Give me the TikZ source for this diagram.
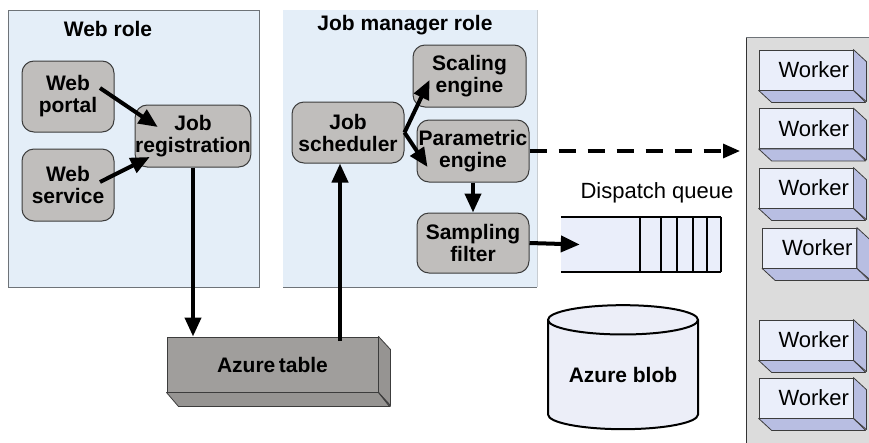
\documentclass[tikz,border=0pt]{standalone}
\usepackage{fontspec}
\setmainfont{Liberation Sans}
\usetikzlibrary{arrows.meta,calc,shapes.geometric}
\definecolor{panelfill}{RGB}{228,238,248}
\definecolor{panelline}{RGB}{110,115,120}
\definecolor{nodefill}{RGB}{192,190,188}
\definecolor{nodeline}{RGB}{60,60,60}
\definecolor{tablefill}{RGB}{160,158,156}
\definecolor{tableside}{RGB}{150,148,146}
\definecolor{wpanel}{RGB}{220,220,220}
\definecolor{wfront}{RGB}{234,238,250}
\definecolor{wside}{RGB}{184,190,226}
\definecolor{blobfill}{RGB}{236,238,248}
\definecolor{jmedge}{RGB}{200,205,210}
\begin{document}
\begin{tikzpicture}[x=1pt,y=-1pt,
  title/.style={font=\bfseries\fontsize{21}{23}\selectfont, inner sep=0pt},
  procbox/.style={draw=nodeline, line width=1pt, fill=nodefill, rounded corners=12pt,
    align=center, font=\bfseries\fontsize{21}{22}\selectfont, inner sep=0pt},
  flow/.style={line width=4pt, -{Triangle[length=19pt,width=16pt]}},
  dflow/.style={line width=3.2pt, dash pattern=on 17pt off 12pt, -{Triangle[length=17pt,width=14pt]}},
  workerbox/.style={draw=nodeline, line width=0.8pt, fill=wfront, minimum height=40pt,
    text width=86pt, align=right, inner xsep=4pt, inner ysep=0pt,
    font=\fontsize{22}{24}\selectfont},
  faceside/.style={draw=nodeline, line width=0.8pt, line join=round},
]
\useasboundingbox (0,0) rectangle (869,442);
\clip (0,0) rectangle (869,442);

% panels
\node[draw=panelline, line width=0.8pt, fill=panelfill, minimum width=251pt, minimum height=277pt,
  anchor=north west, inner sep=0pt] (webrole) at (8,10) {};
\node[fill=panelfill, minimum width=254pt, minimum height=277pt,
  anchor=north west, inner sep=0pt] (jmrole) at (283,10) {};
\draw[panelline, line width=1pt] (jmrole.south west) -- (jmrole.south east);
\draw[jmedge, line width=0.6pt] (jmrole.north east) -- (jmrole.south east);
\node[title] (webtitle) at (108,29) {Web role};
\node[title] (jmtitle) at (405,25) {Job manager role};

% worker panel
\node[fill=wpanel, minimum width=130pt, minimum height=410pt, anchor=north west, inner sep=0pt] (wp) at (746,37) {};
\draw[black!80, line width=1pt] (wp.south west) -- (wp.north west);
\draw[panelline, line width=1pt] (wp.north west) -- (wp.north east);

% process nodes
\node[procbox, minimum width=92pt, minimum height=71pt] (portal) at (68,96.5) {Web\\portal};
\node[procbox, minimum width=92pt, minimum height=72pt] (service) at (68,185) {Web\\service};
\node[procbox, minimum width=112pt, minimum height=62pt] (jreg) at (193,136) {Job\\registration};
\node[procbox, minimum width=112pt, minimum height=61pt] (jsched) at (348,132.5) {Job\\scheduler};
\node[procbox, minimum width=113pt, minimum height=62pt] (scale) at (469.5,76) {Scaling\\engine};
\node[procbox, minimum width=112pt, minimum height=62pt] (param) at (473,151) {Parametric\\engine};
\node[procbox, minimum width=112pt, minimum height=60pt] (sample) at (473,243) {Sampling\\filter};

% azure table (3D box)
\node[draw=nodeline, line width=1pt, fill=tablefill, minimum width=211pt, minimum height=55pt,
  inner sep=0pt, font=\bfseries\fontsize{21}{23}\selectfont] (table) at (272.5,364.5) {Azure\,table};
\draw[faceside, fill=tableside] (table.north east) -- ++(12,13) -- ++(0,56) -- (table.south east) -- cycle;
\draw[faceside, fill=tableside] (table.south west) -- ++(12,14) -- ++(211,0) -- (table.south east) -- cycle;
\draw[faceside] (table.south east) -- ++(12,14);

% azure blob
\node[cylinder, shape border rotate=90, aspect=0.27, draw=black, line width=2pt, fill=blobfill,
  minimum width=150pt, minimum height=124pt, inner sep=0pt,
  font=\bfseries\fontsize{21}{23}\selectfont] (blob) at (623,375) {Azure blob};

% dispatch queue
\node[fill=wfront, minimum width=160pt, minimum height=55pt, inner sep=0pt] (queue) at (641,244.5) {};
\draw[line width=2.5pt] (queue.north west) -- (queue.north east);
\draw[line width=2.5pt] (queue.south west) -- (queue.south east);
\foreach \xx in {79,100,116,132,146,160}
  \draw[line width=2pt] ($(queue.north west)+(\xx,0)$) -- ($(queue.south west)+(\xx,0)$);
\node[font=\fontsize{22}{24}\selectfont, inner sep=0pt] (qlabel) at (657,193) {Dispatch queue};

% workers
\foreach \nm/\cx/\cy in {w1/806/70, w2/806/128.5, w3/806/188, w4/809.5/248, w5/806/340, w6/806/398}{
  \node[workerbox] (\nm) at (\cx,\cy) {Worker};
  \draw[faceside, fill=wside] (\nm.north east) -- ++(13,12) -- ++(0,40) -- (\nm.south east) -- cycle;
  \draw[faceside, fill=wside] (\nm.south west) -- ++(13,12) -- ++(94,0) -- (\nm.south east) -- cycle;
}

% connectors
\coordinate (dashend) at (740,151);
\coordinate (upstart) at (340,341);
\draw[flow] ($(portal.center)+(32,-8.5)$) -- ($(jreg.west)+(23,-9)$);
\draw[flow] ($(service.center)+(32,-3)$) -- ($(jreg.west)+(15,21)$);
\draw[flow] (jreg.south) -- (jreg.south |- table.north);
\draw[flow] (upstart) -- (upstart |- jsched.south);
\draw[flow] (jsched.east) -- ($(scale.west)+(17,4)$);
\draw[flow] (jsched.east) -- ($(param.west)+(11,16)$);
\draw[flow] (param.south) -- (sample.north);
\draw[flow] (sample.east) -- ($(queue.west)+(19,0)$);
\draw[dflow] (param.east) -- (dashend);
\end{tikzpicture}
\end{document}
